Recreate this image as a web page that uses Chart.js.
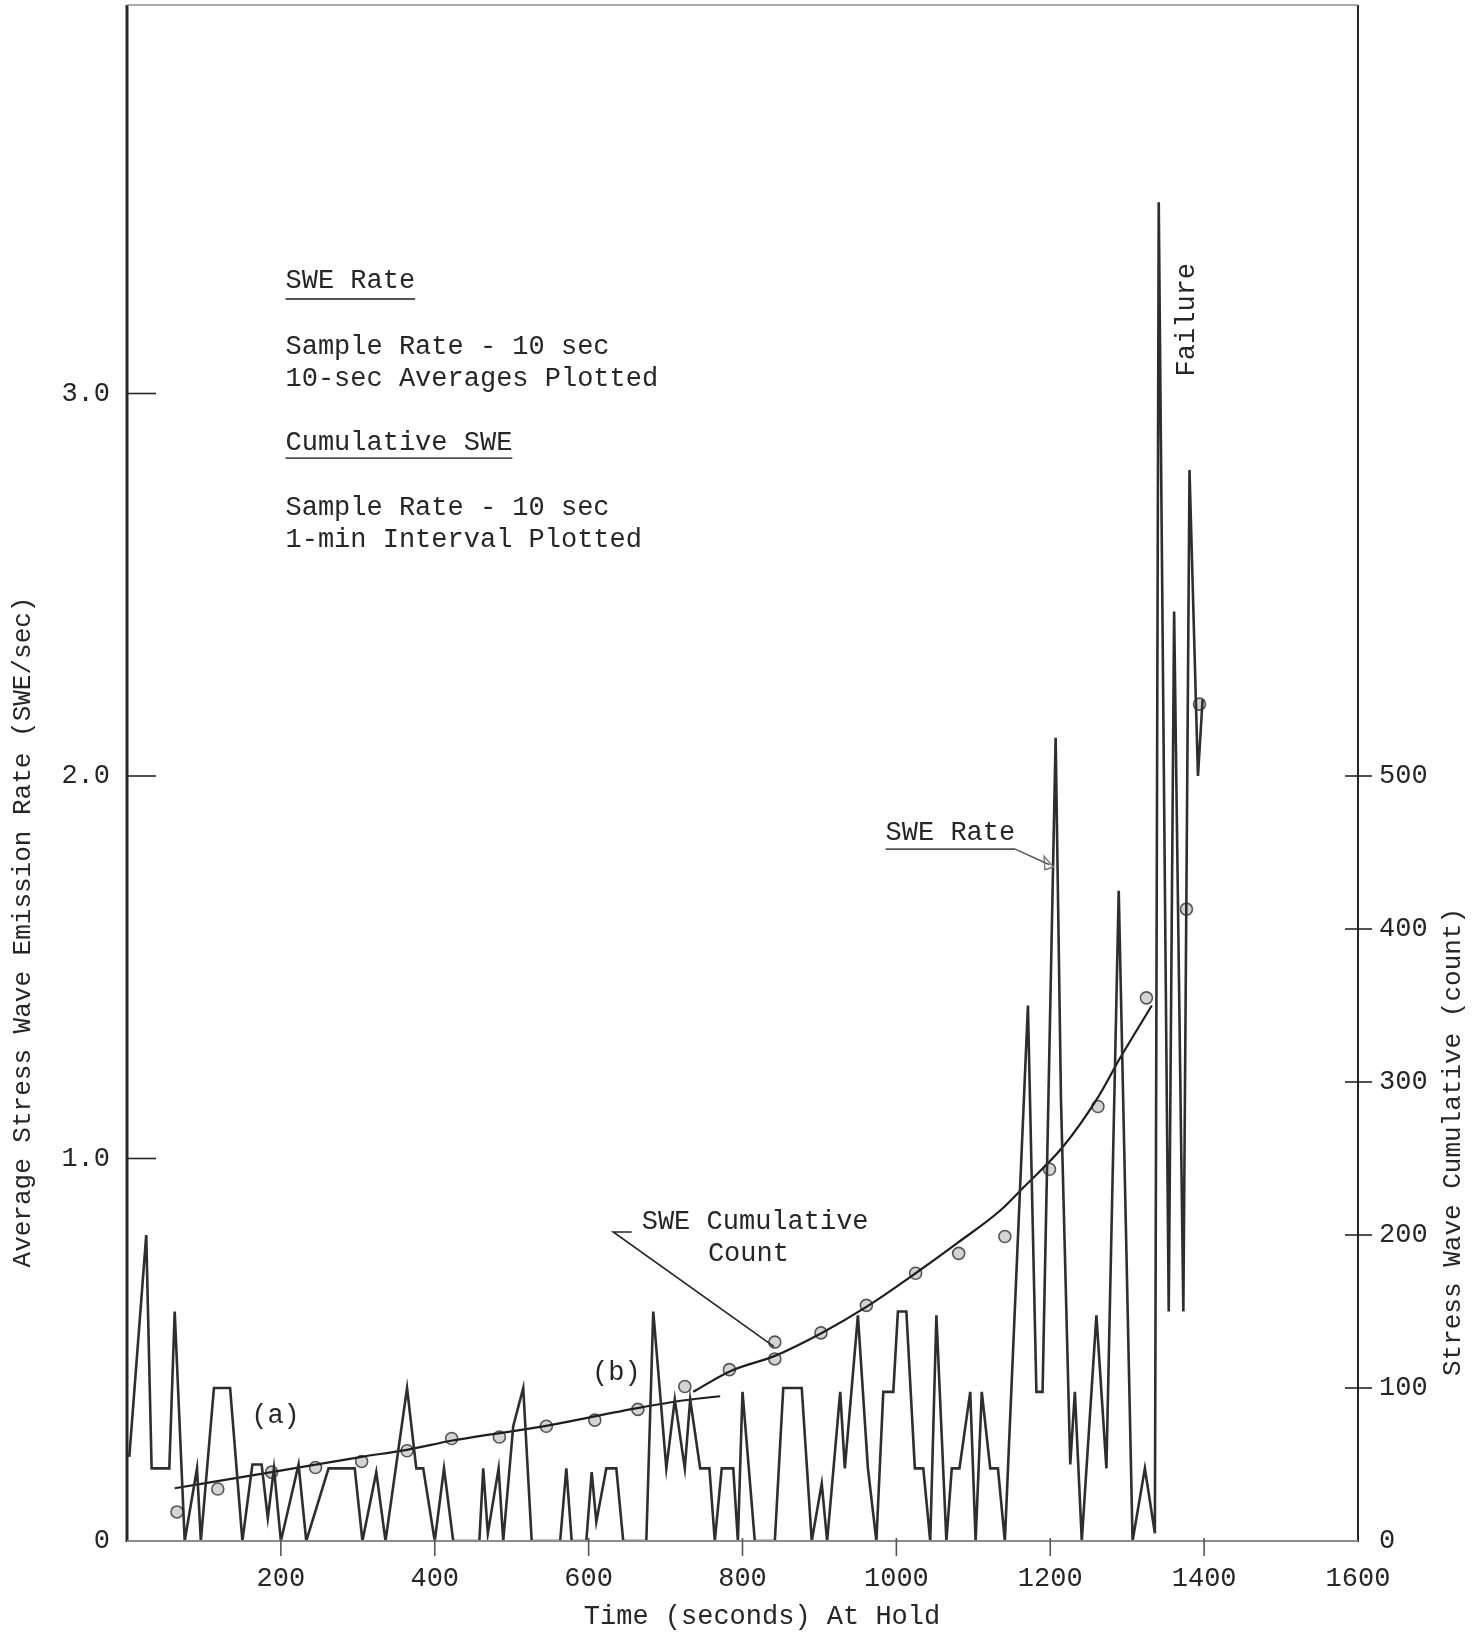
<!DOCTYPE html>
<html lang="en">
<head>
  <meta charset="UTF-8" />
  <title>SWE Rate and Cumulative Count at Hold</title>
  <script src="https://cdn.jsdelivr.net/npm/chart.js"></script>
  <style>
    body { margin: 0; background: #fff; }
    #wrap { width: 1483px; height: 1633px; }
  </style>
</head>
<body>
  <div id="wrap"><canvas id="chart" width="1483" height="1633"></canvas></div>

  <script>
    // SWE rate trace (10-sec averages), vertices
    const rateTime = [
      3, 25, 32, 55, 62, 75, 91, 96, 113, 134,
      150, 163, 175, 183, 191, 200, 223, 233, 262, 296,
      306, 324, 336, 364, 376, 385, 400, 412, 424, 458,
      463, 469, 483, 489, 502, 515, 526, 563, 571, 578,
      597, 604, 610, 623, 636, 645, 675, 684, 701, 712,
      725, 732, 745, 757, 764, 773, 788, 794, 800, 816,
      842, 853, 877, 890, 903, 910, 927, 933, 950, 963,
      974, 983, 996, 1002, 1013, 1024, 1035, 1044, 1052, 1065,
      1072, 1082, 1096, 1103, 1111, 1122, 1132, 1141, 1171, 1182,
      1190, 1207, 1214, 1226, 1232, 1241, 1260, 1273, 1289, 1307,
      1323, 1336, 1341, 1354, 1361, 1373, 1381, 1392, 1398
    ];
    const rateValue = [
      0.22, 0.80, 0.19, 0.19, 0.60, 0, 0.19, 0, 0.40, 0.40,
      0, 0.20, 0.20, 0.06, 0.19, 0, 0.20, 0, 0.19, 0.19,
      0, 0.18, 0, 0.40, 0.19, 0.19, 0, 0.19, 0, 0,
      0.19, 0.02, 0.19, 0, 0.30, 0.40, 0, 0, 0.19, 0,
      0, 0.18, 0.05, 0.19, 0.19, 0, 0, 0.60, 0.19, 0.37,
      0.19, 0.37, 0.19, 0.19, 0, 0.19, 0.19, 0, 0.39, 0,
      0, 0.40, 0.40, 0, 0.15, 0, 0.39, 0.19, 0.59, 0.19,
      0, 0.39, 0.39, 0.60, 0.60, 0.19, 0.19, 0, 0.59, 0,
      0.19, 0.19, 0.39, 0, 0.39, 0.19, 0.19, 0, 1.40, 0.39,
      0.39, 2.10, 1.15, 0.20, 0.39, 0, 0.59, 0.19, 1.70, 0,
      0.19, 0.02, 3.50, 0.60, 2.43, 0.60, 2.80, 2.00, 2.20
    ];

    // cumulative SWE, 1-min points
    const cumTime  = [65, 118, 188, 245, 305, 364, 422, 484, 545, 608, 664, 725, 783, 842, 842, 902, 961, 1025, 1081, 1141, 1199, 1262, 1325, 1377, 1394];
    const cumCount = [19, 34, 45, 48, 52, 59, 67, 68, 75, 79, 86, 101, 112, 119, 130, 136, 154, 175, 188, 199, 243, 284, 355, 413, 547];

    // faired curves (a) and (b) through the cumulative points
    const curveATime  = [62, 188, 305, 364, 423, 537, 665, 725, 771];
    const curveACount = [34.5, 45, 55, 59.6, 65.7, 74.6, 87, 92, 94.6];
    const curveBTime  = [736, 784, 842, 903, 961, 1025, 1080, 1135, 1165, 1217, 1262, 1290, 1332];
    const curveBCount = [97.5, 111, 121, 136, 153, 175, 195, 216, 231, 258, 290, 315, 350];

    const xTicks = [200, 400, 600, 800, 1000, 1200, 1400, 1600];
    const xTickMarks = [200, 400, 600, 800, 1000, 1200, 1400];
    const rateTicks = [0, 1, 2, 3];
    const countTicks = [0, 100, 200, 300, 400, 500];

    const MONO = "'Liberation Mono', 'DejaVu Sans Mono', monospace";
    const INK = '#262626';

    const pts = (xs, ys) => xs.map((x, i) => ({ x: x, y: ys[i] }));

    function label(ctx, s, x, y, align) {
      ctx.textAlign = align || 'left';
      ctx.fillText(s, x, y);
    }
    function seg(ctx, x1, y1, x2, y2) {
      ctx.beginPath();
      ctx.moveTo(x1, y1);
      ctx.lineTo(x2, y2);
      ctx.stroke();
    }

    const paperMarks = {
      id: 'paperMarks',
      afterDatasetsDraw(chart) {
        const { ctx, chartArea: a } = chart;
        const X = v => chart.scales.x.getPixelForValue(v);
        const Y = v => chart.scales.y.getPixelForValue(v);
        const Y2 = v => chart.scales.y2.getPixelForValue(v);
        ctx.save();

        // frame and axes
        ctx.strokeStyle = INK;
        ctx.lineWidth = 3;
        seg(ctx, a.left, a.top - 6, a.left, a.bottom + 1);
        ctx.lineWidth = 2;
        seg(ctx, a.right, a.top - 6, a.right, a.bottom + 1);
        ctx.strokeStyle = '#8c8c8c';
        ctx.lineWidth = 1.5;
        seg(ctx, a.left, a.top - 6, a.right, a.top - 6);
        ctx.lineWidth = 2.2;
        seg(ctx, a.left, a.bottom, a.right, a.bottom);

        // tick marks
        ctx.strokeStyle = INK;
        ctx.lineWidth = 1.6;
        rateTicks.filter(v => v > 0).forEach(v => seg(ctx, a.left, Y(v), a.left + 29, Y(v)));
        countTicks.filter(v => v > 0).forEach(v => seg(ctx, a.right - 13, Y2(v), a.right + 14, Y2(v)));
        ctx.strokeStyle = '#555';
        xTickMarks.forEach(v => seg(ctx, X(v), a.bottom - 3, X(v), a.bottom + 15));

        ctx.fillStyle = INK;
        ctx.textBaseline = 'middle';
        ctx.font = '27px ' + MONO;

        // key block
        const kx = X(206);
        label(ctx, 'SWE Rate', kx, Y(3.294));
        label(ctx, 'Sample Rate - 10 sec', kx, Y(3.122));
        label(ctx, '10-sec Averages Plotted', kx, Y(3.038));
        label(ctx, 'Cumulative SWE', kx, Y(2.871));
        label(ctx, 'Sample Rate - 10 sec', kx, Y(2.701));
        label(ctx, '1-min Interval Plotted', kx, Y(2.617));
        ctx.lineWidth = 1.8;
        seg(ctx, kx, Y(3.247), kx + ctx.measureText('SWE Rate').width, Y(3.247));
        seg(ctx, kx, Y(2.831), kx + ctx.measureText('Cumulative SWE').width, Y(2.831));

        // callouts
        const rx = X(986);
        label(ctx, 'SWE Rate', rx, Y(1.851));
        const ux = rx + ctx.measureText('SWE Rate').width;
        seg(ctx, rx, Y(1.809), ux, Y(1.809));
        ctx.lineWidth = 1.4;
        seg(ctx, ux, Y(1.809), X(1199), Y(1.768));
        ctx.beginPath();
        ctx.moveTo(X(1204), Y(1.762));
        ctx.lineTo(X(1192), Y(1.790));
        ctx.lineTo(X(1193), Y(1.755));
        ctx.closePath();
        ctx.strokeStyle = '#777';
        ctx.stroke();

        ctx.strokeStyle = INK;
        label(ctx, 'SWE Cumulative', X(669), Y(0.834));
        label(ctx, 'Count', X(755), Y(0.750));
        ctx.lineWidth = 1.6;
        ctx.beginPath();
        ctx.moveTo(X(656), Y(0.808));
        ctx.lineTo(X(632), Y(0.808));
        ctx.lineTo(X(841), Y2(127));
        ctx.stroke();

        label(ctx, '(a)', X(193), Y(0.327), 'center');
        label(ctx, '(b)', X(636), Y(0.439), 'center');

        // rotated texts
        const rot = (s, x, y) => {
          ctx.save();
          ctx.translate(x, y);
          ctx.rotate(-Math.PI / 2);
          label(ctx, s, 0, 0, 'center');
          ctx.restore();
        };
        rot('Failure', X(1377), Y(3.193));

        ctx.font = '26px ' + MONO;
        rot('Average Stress Wave Emission Rate (SWE/sec)', 23, 932);
        rot('Stress Wave Cumulative (count)', 1453, 1142);
        ctx.font = '27px ' + MONO;
        label(ctx, 'Time (seconds) At Hold', 762, 1617, 'center');

        ctx.restore();
      }
    };

    new Chart(document.getElementById('chart'), {
      type: 'line',
      data: {
        datasets: [
          {
            label: 'SWE Rate',
            data: pts(rateTime, rateValue),
            yAxisID: 'y',
            borderColor: '#2e2e2e',
            borderWidth: 2.6,
            pointRadius: 0,
            tension: 0
          },
          {
            label: 'Cumulative (a)',
            data: pts(curveATime, curveACount),
            yAxisID: 'y2',
            borderColor: '#1e1e1e',
            borderWidth: 2.2,
            pointRadius: 0,
            cubicInterpolationMode: 'monotone'
          },
          {
            label: 'Cumulative (b)',
            data: pts(curveBTime, curveBCount),
            yAxisID: 'y2',
            borderColor: '#1e1e1e',
            borderWidth: 2.2,
            pointRadius: 0,
            cubicInterpolationMode: 'monotone'
          },
          {
            label: 'SWE Cumulative Count',
            data: pts(cumTime, cumCount),
            yAxisID: 'y2',
            showLine: false,
            pointStyle: 'circle',
            pointRadius: 6,
            pointBorderWidth: 1.6,
            pointBorderColor: '#555',
            pointBackgroundColor: 'rgba(205,205,205,0.85)'
          }
        ]
      },
      options: {
        responsive: false,
        animation: false,
        layout: { padding: { top: 11 } },
        plugins: {
          legend: { display: false },
          tooltip: { enabled: false }
        },
        scales: {
          x: {
            type: 'linear',
            min: 0,
            max: 1600,
            afterFit: s => { s.height = 92; s.paddingLeft = 0; s.paddingRight = 0; },
            afterBuildTicks: s => { s.ticks = xTicks.map(v => ({ value: v })); },
            grid: { display: false, drawTicks: false },
            border: { display: false },
            ticks: {
              autoSkip: false,
              maxRotation: 0,
              padding: 22,
              color: INK,
              font: { family: MONO, size: 27 },
              callback: v => String(v)
            }
          },
          y: {
            type: 'linear',
            position: 'left',
            min: 0,
            max: 4,
            afterFit: s => { s.width = 127; s.paddingTop = 0; s.paddingBottom = 0; },
            afterBuildTicks: s => { s.ticks = rateTicks.map(v => ({ value: v })); },
            grid: { display: false, drawTicks: false },
            border: { display: false },
            ticks: {
              padding: 17,
              color: INK,
              font: { family: MONO, size: 27 },
              callback: v => (v === 0 ? '0' : v.toFixed(1))
            }
          },
          y2: {
            type: 'linear',
            position: 'right',
            min: 0,
            max: 1000,
            afterFit: s => { s.width = 125; s.paddingTop = 0; s.paddingBottom = 0; },
            afterBuildTicks: s => { s.ticks = countTicks.map(v => ({ value: v })); },
            grid: { display: false, drawTicks: false },
            border: { display: false },
            ticks: {
              padding: 21,
              color: INK,
              font: { family: MONO, size: 27 },
              callback: v => String(v)
            }
          }
        }
      },
      plugins: [paperMarks]
    });
  </script>
</body>
</html>
